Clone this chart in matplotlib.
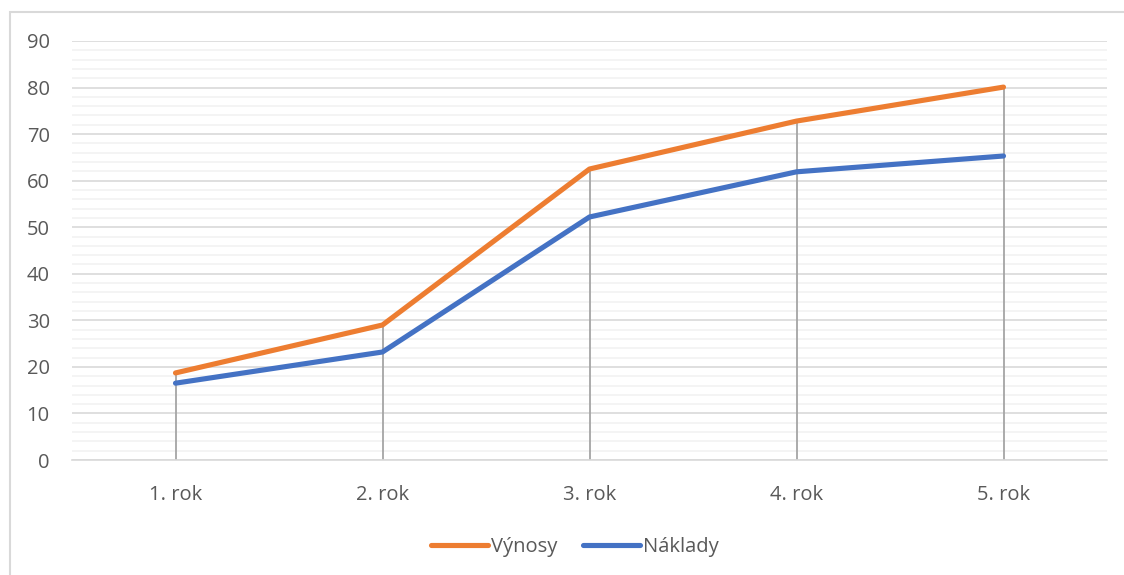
import matplotlib
matplotlib.use('Agg')
import matplotlib.pyplot as plt
from matplotlib.patches import Rectangle
from matplotlib.ticker import MultipleLocator

years = ['1. rok', '2. rok', '3. rok', '4. rok', '5. rok']
vynosy = [18.7, 29.0, 62.5, 72.8, 80.1]
naklady = [16.5, 23.2, 52.2, 61.9, 65.3]

ORANGE = '#ed7d31'
BLUE = '#4472c4'
TEXT = '#595959'

plt.rcParams['font.family'] = ['Open Sans', 'DejaVu Sans']

fig = plt.figure(figsize=(11.24, 5.75), dpi=100)
ax = fig.add_axes([72 / 1124, 115 / 575, 1035 / 1124, 419 / 575])

# chart frame, running off the right and bottom edges
fig.patches.append(Rectangle((10 / 1124, -0.05), 1.2, 1 - 12 / 575 + 0.05,
                             transform=fig.transFigure, fill=False,
                             edgecolor='#d9d9d9', linewidth=1.5))

x = list(range(len(years)))

# high-low drop lines from the top series down to zero
for i in x:
    ax.plot([i, i], [0, max(vynosy[i], naklady[i])], color='#a5a5a5',
            linewidth=1.3, zorder=2)

ax.plot(x, vynosy, color=ORANGE, linewidth=3.7, solid_capstyle='round',
        solid_joinstyle='round', label='Výnosy', zorder=3)
ax.plot(x, naklady, color=BLUE, linewidth=3.7, solid_capstyle='round',
        solid_joinstyle='round', label='Náklady', zorder=3)

ax.set_xlim(-0.5, len(years) - 0.5)
ax.set_ylim(0, 90)
ax.yaxis.set_major_locator(MultipleLocator(10))
ax.yaxis.set_minor_locator(MultipleLocator(2))
ax.set_xticks(x)
ax.set_xticklabels(years)

ax.grid(which='major', axis='y', color='#d9d9d9', linewidth=1.2, zorder=0)
ax.grid(which='minor', axis='y', color='#f2f2f2', linewidth=1.2, zorder=0)
ax.set_axisbelow(True)

for side in ['top', 'right', 'left']:
    ax.spines[side].set_visible(False)
ax.spines['bottom'].set_color('#d9d9d9')
ax.spines['bottom'].set_linewidth(1.2)

ax.tick_params(axis='both', which='both', length=0, labelsize=14.5, colors=TEXT)
ax.tick_params(axis='y', pad=16)
ax.tick_params(axis='x', pad=18)

fig.legend(loc='center', bbox_to_anchor=(575 / 1124, 1 - 547 / 575), ncol=2,
           frameon=False, fontsize=14.5, labelcolor=TEXT, handlelength=2.8,
           handletextpad=0.15, columnspacing=1.3)

fig.savefig('out.png', dpi=100)
